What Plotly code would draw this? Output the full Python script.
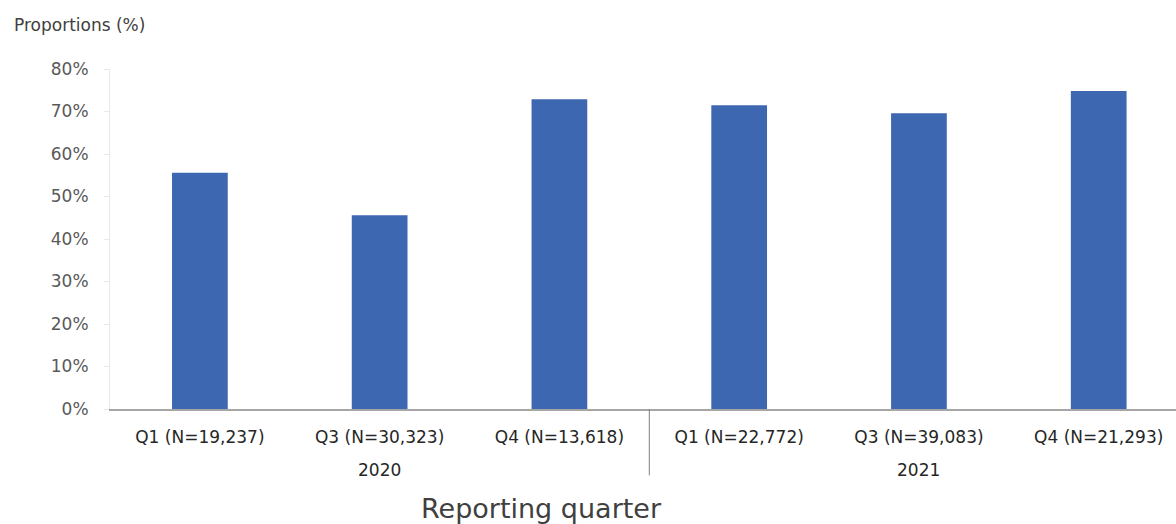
import plotly.graph_objects as go

# Reporting quarters grouped by year
years = ["2020", "2020", "2020", "2021", "2021", "2021"]
quarters = ["Q1 (N=19,237)", "Q3 (N=30,323)", "Q4 (N=13,618)",
            "Q1 (N=22,772)", "Q3 (N=39,083)", "Q4 (N=21,293)"]
# Proportion of reports per quarter (%)
proportions = [55.6, 45.6, 72.9, 71.5, 69.6, 74.8]

tick_values = [0, 10, 20, 30, 40, 50, 60, 70, 80]
tick_labels = ["0%", "10%", "20%", "30%", "40%", "50%", "60%", "70%", "80%"]

BAR_COLOR = "#3D67B1"
TEXT_GREY = "#595959"
FONT = "DejaVu Sans"

fig = go.Figure(
    go.Bar(
        x=quarters,
        y=proportions,
        marker=dict(color=BAR_COLOR, line=dict(width=0)),
        width=0.31,
        hoverinfo="skip",
    )
)

# Year group labels centred under their quarters, plus a separator between groups
year_order = list(dict.fromkeys(years))
year_annotations = []
for yr in year_order:
    idx = [i for i, y in enumerate(years) if y == yr]
    year_annotations.append(dict(
        text=yr,
        xref="x", yref="paper",
        x=sum(idx) / len(idx), y=0, yshift=-61,
        xanchor="center", yanchor="middle",
        showarrow=False,
        font=dict(size=17, color="#262626", family=FONT),
    ))

separators = []
for i in range(1, len(years)):
    if years[i] != years[i - 1]:
        separators.append(dict(
            type="line",
            xref="x", yref="paper",
            x0=i - 0.5, x1=i - 0.5, y0=0, y1=-0.195,
            line=dict(color="#808080", width=1),
        ))

fig.update_layout(
    width=1176,
    height=524,
    margin=dict(l=110, r=0, t=69, b=115),
    paper_bgcolor="white",
    plot_bgcolor="white",
    font=dict(family=FONT, color=TEXT_GREY),
    showlegend=False,
    xaxis=dict(
        type="category",
        range=[-0.5, 5.43],
        showline=True,
        linecolor="#A6A6A6",
        linewidth=2,
        showgrid=False,
        ticks="",
        ticklabelstandoff=12,
        tickfont=dict(size=17, color="#262626"),
    ),
    yaxis=dict(
        range=[0, 80],
        tickvals=tick_values,
        ticktext=tick_labels,
        showgrid=False,
        zeroline=False,
        showline=True,
        linecolor="#E3E9EE",
        linewidth=1,
        ticks="outside",
        ticklen=5,
        tickcolor="#E3E9EE",
        ticklabelstandoff=12,
        tickfont=dict(size=17, color=TEXT_GREY),
    ),
    shapes=separators,
    annotations=[
        dict(
            text="Proportions (%)",
            xref="paper", yref="paper",
            x=-0.092, y=1.0, yshift=44,
            xanchor="left", yanchor="middle",
            showarrow=False,
            font=dict(size=17, color="#404040", family=FONT),
        ),
        dict(
            text="Reporting quarter",
            xref="paper", yref="paper",
            x=0.405, y=0, yshift=-99,
            xanchor="center", yanchor="middle",
            showarrow=False,
            font=dict(size=27, color="#404040", family=FONT),
        ),
    ] + year_annotations,
)

fig.write_html("out.html")
